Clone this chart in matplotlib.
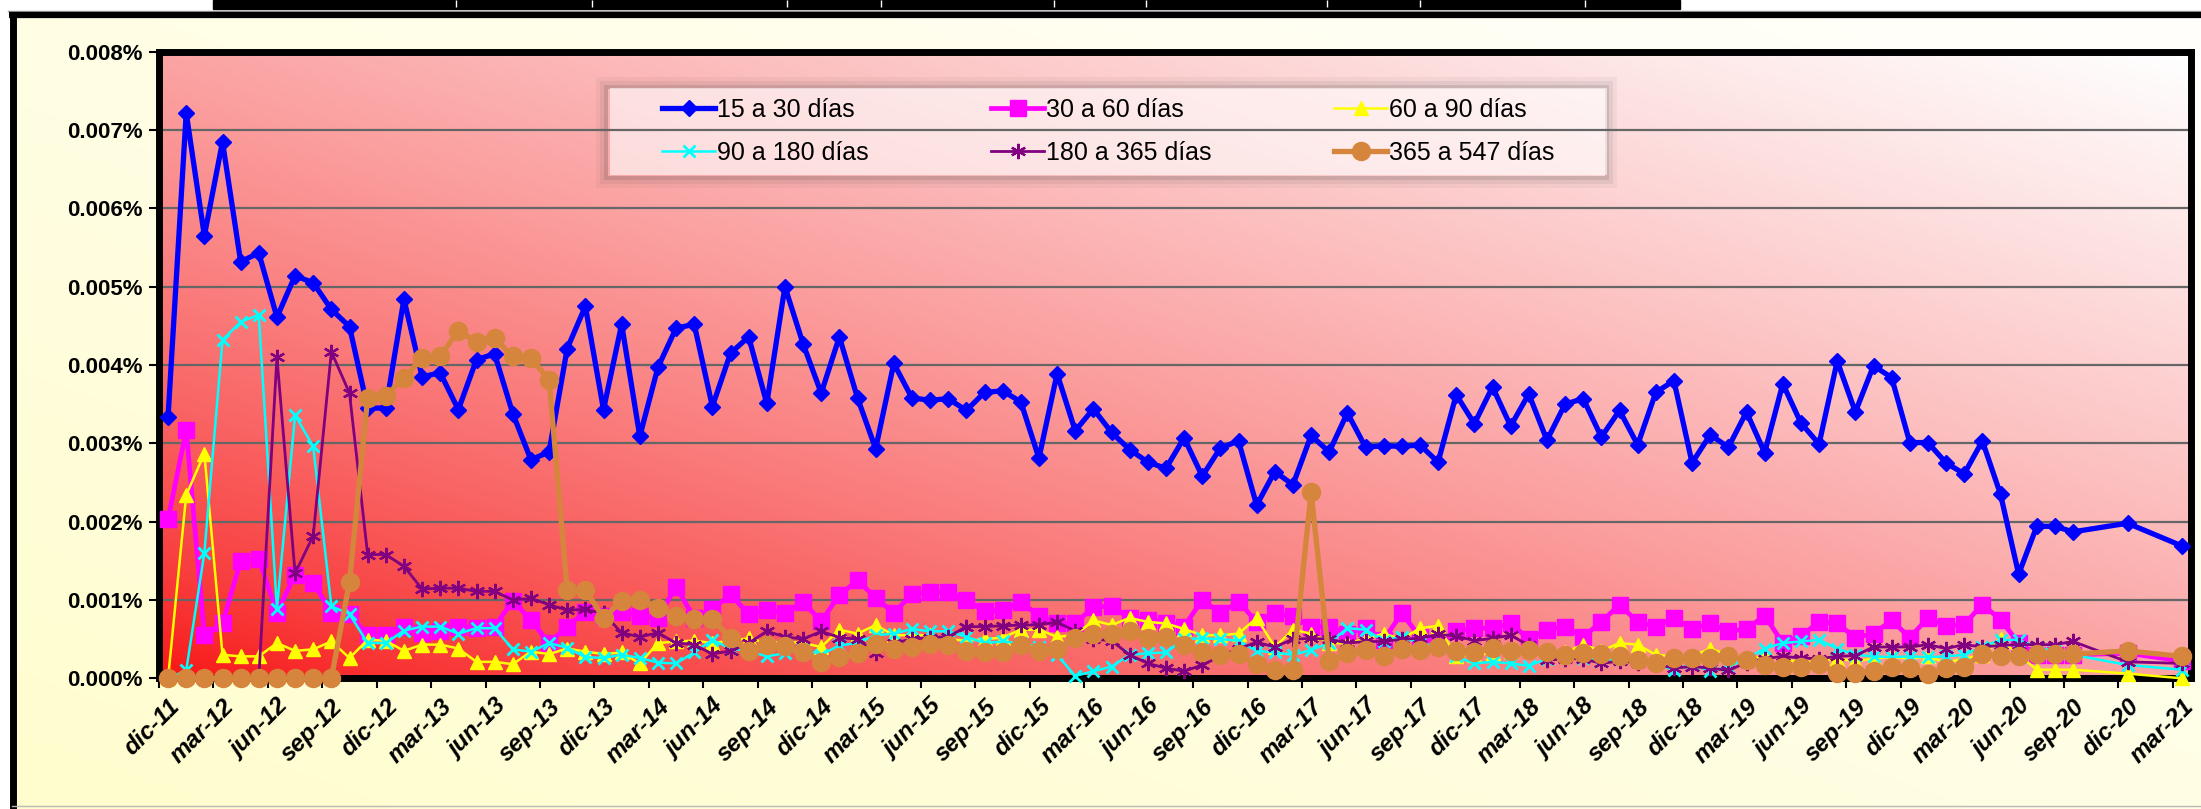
import numpy as np
import matplotlib.pyplot as plt
from matplotlib.patches import Rectangle

plt.rcParams['font.family'] = ['Liberation Sans', 'DejaVu Sans']

# valores en milésimas de punto porcentual (0.001%), dic-11 .. mar-21
# None = mes sin dato (la línea une los puntos existentes)
s15_30 = [3.34, 7.22, 5.65, 6.85, 5.32, 5.43, 4.61, 5.14, 5.05, 4.71, 4.49, 3.45,
          3.45, 4.84, 3.85, 3.90, 3.43, 4.07, 4.14, 3.38, 2.79, 2.89, 4.21, 4.75,
          3.43, 4.52, 3.09, 3.97, 4.47, 4.52, 3.47, 4.15, 4.36, 3.51, 5.00, 4.27,
          3.64, 4.36, 3.58, 2.93, 4.02, 3.58, 3.55, 3.57, 3.42, 3.65, 3.67, 3.53,
          2.81, 3.89, 3.16, 3.44, 3.14, 2.92, 2.76, 2.68, 3.07, 2.58, 2.94, 3.03,
          2.21, 2.64, 2.47, 3.10, 2.89, 3.39, 2.95, 2.97, 2.96, 2.98, 2.76, 3.62,
          3.25, 3.72, 3.22, 3.63, 3.04, 3.50, 3.57, 3.08, 3.42, 2.98, 3.65, 3.80,
          2.75, 3.11, 2.95, 3.40, 2.88, 3.76, 3.26, 2.99, 4.05, 3.40, 3.99, 3.84,
          3.01, 3.01, 2.75, 2.61, 3.03, 2.35, 1.33, 1.94, 1.94, 1.87, None, None,
          1.98, None, None, 1.69]
s30_60 = [2.03, 3.17, 0.55, 0.70, 1.50, 1.52, 0.84, 1.32, 1.22, 0.84, 0.82, 0.55,
          0.55, 0.66, 0.58, 0.60, 0.66, 0.64, 0.66, 0.99, 0.74, 0.45, 0.66, 0.85,
          0.80, 0.85, 0.80, 0.77, 1.17, 0.77, 0.88, 1.07, 0.82, 0.87, 0.84, 0.97,
          0.73, 1.06, 1.25, 1.03, 0.83, 1.08, 1.10, 1.10, 1.00, 0.86, 0.87, 0.97,
          0.80, 0.70, 0.70, 0.91, 0.92, 0.77, 0.75, 0.71, 0.66, 1.00, 0.83, 0.98,
          0.72, 0.83, 0.79, 0.66, 0.66, 0.57, 0.64, 0.49, 0.83, 0.53, 0.45, 0.60,
          0.64, 0.64, 0.70, 0.50, 0.62, 0.66, 0.53, 0.72, 0.94, 0.72, 0.66, 0.77,
          0.63, 0.70, 0.60, 0.63, 0.80, 0.45, 0.54, 0.72, 0.70, 0.52, 0.57, 0.74,
          0.52, 0.77, 0.67, 0.69, 0.94, 0.75, 0.45, 0.30, 0.30, 0.30, None, None,
          0.32, None, None, 0.22]
s60_90 = [0.00, 2.34, 2.87, 0.30, 0.28, 0.28, 0.45, 0.35, 0.37, 0.47, 0.26, 0.49,
          0.48, 0.35, 0.43, 0.43, 0.38, 0.21, 0.21, 0.18, 0.34, 0.31, 0.38, 0.34,
          0.31, 0.33, 0.19, 0.45, 0.47, 0.48, 0.45, 0.48, 0.51, 0.45, 0.47, 0.45,
          0.40, 0.62, 0.57, 0.68, 0.55, 0.55, 0.55, 0.50, 0.48, 0.50, 0.52, 0.62,
          0.62, 0.53, 0.55, 0.74, 0.68, 0.77, 0.72, 0.70, 0.63, 0.55, 0.55, 0.57,
          0.77, 0.40, 0.62, 0.57, 0.45, 0.45, 0.50, 0.57, 0.50, 0.64, 0.67, 0.28,
          0.30, 0.32, 0.35, 0.38, 0.35, 0.33, 0.43, 0.35, 0.45, 0.43, 0.30, 0.28,
          0.28, 0.38, 0.30, 0.25, 0.28, 0.25, 0.20, 0.22, 0.25, 0.22, 0.25, 0.28,
          0.25, 0.28, 0.20, 0.25, 0.30, 0.50, 0.30, 0.11, 0.11, 0.11, None, None,
          0.06, None, None, 0.00]
s90_180 = [0.00, 0.10, 1.60, 4.32, 4.55, 4.64, 0.89, 3.36, 2.96, 0.92, 0.82, 0.45,
           0.45, 0.61, 0.66, 0.66, 0.57, 0.64, 0.64, 0.37, 0.34, 0.45, 0.39, 0.27,
           0.26, 0.30, 0.26, 0.20, 0.19, 0.33, 0.49, 0.38, 0.35, 0.28, 0.32, 0.38,
           0.30, 0.42, 0.45, 0.55, 0.57, 0.63, 0.60, 0.60, 0.53, 0.45, 0.47, 0.45,
           0.40, 0.30, 0.03, 0.09, 0.15, 0.30, 0.32, 0.33, 0.50, 0.51, 0.50, 0.48,
           0.35, 0.33, 0.30, 0.36, 0.45, 0.64, 0.62, 0.48, 0.53, 0.45, 0.40, 0.28,
           0.19, 0.21, 0.19, 0.16, 0.25, 0.27, 0.26, 0.22, 0.25, 0.22, 0.18, 0.11,
           0.18, 0.09, 0.15, 0.25, 0.38, 0.45, 0.47, 0.49, 0.38, 0.30, 0.28, 0.27,
           0.28, 0.27, 0.28, 0.30, 0.40, 0.49, 0.49, 0.40, 0.35, 0.30, None, None,
           0.17, None, None, 0.11]
s180_365 = [0.00, 0.00, 0.00, 0.00, 0.00, 0.00, 4.10, 1.34, 1.82, 4.17, 3.64, 1.58,
            1.58, 1.43, 1.14, 1.15, 1.15, 1.11, 1.11, 1.00, 1.02, 0.94, 0.87, 0.88,
            0.83, 0.58, 0.53, 0.58, 0.45, 0.43, 0.31, 0.35, 0.45, 0.60, 0.53, 0.50,
            0.60, 0.52, 0.50, 0.32, 0.45, 0.50, 0.52, 0.53, 0.66, 0.66, 0.67, 0.68,
            0.68, 0.72, 0.60, 0.50, 0.48, 0.30, 0.19, 0.13, 0.09, 0.17, 0.28, 0.38,
            0.46, 0.40, 0.50, 0.51, 0.50, 0.45, 0.47, 0.47, 0.50, 0.51, 0.56, 0.54,
            0.48, 0.51, 0.55, 0.42, 0.23, 0.25, 0.25, 0.19, 0.22, 0.20, 0.18, 0.13,
            0.15, 0.13, 0.10, 0.20, 0.25, 0.28, 0.26, 0.25, 0.28, 0.29, 0.40, 0.40,
            0.40, 0.43, 0.38, 0.43, 0.40, 0.42, 0.43, 0.43, 0.43, 0.47, None, None,
            0.21, None, None, 0.19]
s365_547 = [0.00, 0.00, 0.00, 0.00, 0.00, 0.00, 0.00, 0.00, 0.00, 0.00, 1.23, 3.58,
            3.61, 3.83, 4.09, 4.12, 4.43, 4.30, 4.34, 4.11, 4.09, 3.81, 1.13, 1.13,
            0.77, 0.99, 1.00, 0.90, 0.80, 0.76, 0.76, 0.51, 0.35, 0.43, 0.41, 0.34,
            0.21, 0.27, 0.32, 0.44, 0.38, 0.40, 0.44, 0.43, 0.35, 0.33, 0.33, 0.43,
            0.35, 0.37, 0.52, 0.57, 0.57, 0.60, 0.52, 0.53, 0.43, 0.33, 0.30, 0.31,
            0.18, 0.10, 0.10, 2.38, 0.22, 0.32, 0.36, 0.28, 0.38, 0.36, 0.40, 0.35,
            0.34, 0.39, 0.35, 0.36, 0.33, 0.30, 0.32, 0.31, 0.28, 0.23, 0.19, 0.26,
            0.26, 0.26, 0.29, 0.23, 0.17, 0.14, 0.14, 0.18, 0.07, 0.07, 0.09, 0.15,
            0.13, 0.06, 0.13, 0.15, 0.31, 0.29, 0.29, 0.31, 0.31, 0.31, None, None,
            0.35, None, None, 0.28]

xlabels = ['dic-11', 'mar-12', 'jun-12', 'sep-12', 'dic-12', 'mar-13', 'jun-13', 'sep-13',
           'dic-13', 'mar-14', 'jun-14', 'sep-14', 'dic-14', 'mar-15', 'jun-15', 'sep-15',
           'dic-15', 'mar-16', 'jun-16', 'sep-16', 'dic-16', 'mar-17', 'jun-17', 'sep-17',
           'dic-17', 'mar-18', 'jun-18', 'sep-18', 'dic-18', 'mar-19', 'jun-19', 'sep-19',
           'dic-19', 'mar-20', 'jun-20', 'sep-20', 'dic-20', 'mar-21']
names = ['15 a 30 días', '30 a 60 días', '60 a 90 días',
         '90 a 180 días', '180 a 365 días', '365 a 547 días']

W, H = 2201, 809
fig = plt.figure(figsize=(W / 100, H / 100), dpi=100)
fig.patch.set_facecolor('white')

# fondo del gráfico (coordenadas en píxeles)
bg = fig.add_axes([0, 0, 1, 1], zorder=-10)
bg.set_xlim(0, W)
bg.set_ylim(H, 0)
bg.axis('off')
U, V = np.meshgrid(np.linspace(0, 1, 200), np.linspace(0, 1, 80))
t = (U + (1 - V)) / 2
img = np.ones((80, 200, 3))
img[..., 2] = (205 + 47 * t) / 255
img[..., 1] = (253 + 2 * t) / 255
bg.imshow(img, extent=(12, W, H, 15), aspect='auto', interpolation='bilinear')
bg.plot([8, W], [10.5, 10.5], color='#9a9a9a', lw=1)
bg.plot([9, W], [15, 15], color='black', lw=4.5, solid_capstyle='butt')
bg.plot([12.5, 12.5], [15, H], color='black', lw=5, solid_capstyle='butt')
bg.plot([12, W], [806, 806], color='#b8b8b8', lw=1)
# borde inferior de la tabla superior
bg.add_patch(Rectangle((213, 0), 1680 - 213, 9, color='black'))
bg.vlines([456, 592, 787, 881, 1054, 1146, 1327, 1420, 1585], 0, 7, color='white', lw=1)

left, right, top, bottom = 159, 2191, 51.7, 678.3
ax = fig.add_axes([left / W, 1 - bottom / H, (right - left) / W, (bottom - top) / H])

# degradado rojo -> blanco
t2 = (U + V) / 2
grad = np.ones((80, 200, 3))
grad[..., 0] = (248 + 7 * t2) / 255
grad[..., 1] = (18 + 237 * t2 ** 0.7) / 255
grad[..., 2] = (18 + 237 * t2 ** 0.7) / 255
ax.imshow(grad, extent=(-0.5, 111.5, 0, 0.008), origin='lower', aspect='auto',
          interpolation='bilinear', zorder=0)

styles = [
    dict(color='#0000FF', lw=3.8, marker='D', ms=8.5, mec='#0000FF'),
    dict(color='#FF00FF', lw=3.4, marker='s', ms=11, mec='#FF00FF'),
    dict(color='#FFFF00', lw=1.8, marker='^', ms=10, mec='#FFFF00'),
    dict(color='#00FFFF', lw=1.8, marker='x', ms=9, mew=2),
    dict(color='#800080', lw=2.0, marker=(6, 2, 0), ms=11, mew=1.6),
    dict(color='#D6853C', lw=3.8, marker='o', ms=13, mec='#D6853C'),
]
series = [s15_30, s30_60, s60_90, s90_180, s180_365, s365_547]
lines = []
for vals, name, st in zip(series, names, styles):
    xs = [i for i, v in enumerate(vals) if v is not None]
    ys = [v / 1000 for v in vals if v is not None]
    ln, = ax.plot(xs, ys, label=name, zorder=3, clip_on=False, **st)
    lines.append(ln)

ax.set_xlim(-0.5, 111.5)
ax.set_ylim(0, 0.008)
ax.set_axisbelow(True)
ax.yaxis.grid(True, color='#666666', lw=1.6)

yt = np.arange(0, 0.0081, 0.001)
ax.set_yticks(yt)
ax.set_yticklabels(['%.3f%%' % v for v in yt], fontsize=16, fontweight='bold')
ax.tick_params(axis='y', length=7, width=1.5, pad=5)

ax.set_xticks(range(0, 112, 3))
ax.set_xticklabels(xlabels, rotation=45, ha='right', va='top', rotation_mode='anchor',
                   fontsize=17.5, fontweight='bold', fontstyle='italic')
ax.tick_params(axis='x', which='major', length=0, pad=12)
ax.set_xticks(np.arange(-0.5, 111, 3), minor=True)
ax.tick_params(axis='x', which='minor', length=7, width=1.5)

for sp in ax.spines.values():
    sp.set_linewidth(5)
    sp.set_color('black')

# caja de la leyenda con sombra difusa alrededor
bx0, by0, bx1, by1 = 610, 88, 1607, 175
for k, a in [(12, 0.05), (8, 0.08), (4, 0.14)]:
    ax.add_patch(Rectangle(((bx0 - k / 2 - 2) / W, 1 - (by1 + k / 2 + 1) / H),
                           (bx1 - bx0 + k) / W, (by1 - by0 + k) / H,
                           transform=fig.transFigure, facecolor='none', edgecolor='#404040',
                           lw=k * 0.72, alpha=a, zorder=0.3))
ax.add_patch(Rectangle((bx0 / W, 1 - by1 / H), (bx1 - bx0) / W, (by1 - by0) / H,
                       transform=fig.transFigure, facecolor='white', edgecolor='none',
                       alpha=0.6, zorder=0.35))

order = [0, 3, 1, 4, 2, 5]
fig.legend([lines[i] for i in order], [names[i] for i in order], ncol=3,
           loc='center', bbox_to_anchor=((bx0 + bx1) / 2 / W, 1 - (by0 + by1) / 2 / H),
           frameon=False, fontsize=18, handlelength=2.1, handletextpad=0.1,
           columnspacing=4.9, labelspacing=0.75, borderpad=0)

fig.savefig('out.png', dpi=100)
